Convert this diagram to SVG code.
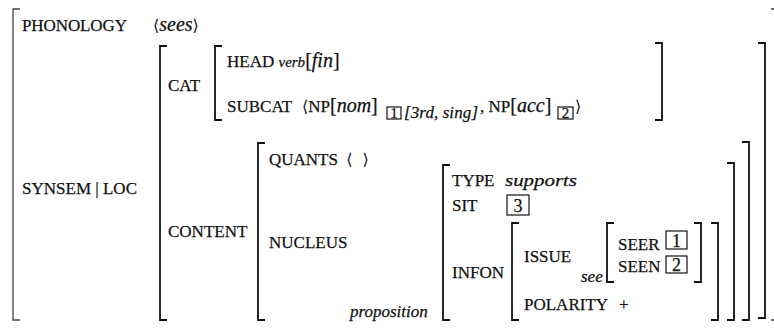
<svg xmlns="http://www.w3.org/2000/svg" width="774" height="330" viewBox="0 0 774 330">
<style>
text { font-family: "Liberation Serif", "Times New Roman", serif; font-size: 17px; fill: #111; stroke: #111; stroke-width: 0.25; }
.it { font-style: italic; }
.ang { font-family: "DejaVu Serif", serif; font-size: 16px; font-style: normal; stroke-width: 0; }
.br { fill: none; stroke: #111; stroke-width: 1.8; }
.outer { fill: none; stroke: #444; stroke-width: 1.3; }
.box { fill: none; stroke: #111; stroke-width: 1.2; }
.num { font-size: 18px; text-anchor: middle; }
.sub { font-size: 15px; text-anchor: middle; }
</style>
<rect width="774" height="330" fill="#fff"/>

<g id="brackets">
  <path class="outer" d="M20,9 H13 V320 H20"/>
  <path class="outer" d="M771,9 H776 V320 H771"/>
  <path class="br" d="M167,46 H160 V320 H167"/>
  <path class="br" d="M758,43 H765 V318 H758"/>
  <path class="br" d="M222,46 H215 V120 H222"/>
  <path class="br" d="M655,43 H662 V120 H655"/>
  <path class="br" d="M265,143 H258 V320 H265"/>
  <path class="br" d="M742,142 H749 V320 H742"/>
  <path class="br" d="M450,165 H443 V320 H450"/>
  <path class="br" d="M727,163 H734 V320 H727"/>
  <path class="br" d="M519,223 H512 V320 H519"/>
  <path class="br" d="M711,223 H718 V320 H711"/>
  <path class="br" d="M614,223 H607 V282 H614"/>
  <path class="br" d="M694,223 H701 V282 H694"/>
</g>

<g id="phonology">
  <text x="22" y="31" textLength="105">PHONOLOGY</text>
  <text x="153" y="31"><tspan class="ang">⟨</tspan><tspan class="it" font-size="20">sees</tspan><tspan class="ang">⟩</tspan></text>
</g>

<g id="synsem">
  <text x="22" y="194" textLength="115">SYNSEM | LOC</text>
  <text x="168" y="91">CAT</text>
  <text x="168" y="237">CONTENT</text>
</g>

<g id="cat">
  <text x="227" y="67">HEAD <tspan class="it" font-size="15">verb</tspan><tspan font-size="20">[</tspan><tspan class="it" font-size="20">fin</tspan><tspan font-size="20">]</tspan></text>
  <text x="227" y="112">SUBCAT</text>
  <text x="302" y="112"><tspan class="ang">⟨</tspan>NP<tspan font-size="20">[</tspan><tspan class="it" font-size="20">nom</tspan><tspan font-size="20">]</tspan></text>
  <rect class="box" x="387" y="107" width="14" height="12"/>
  <text class="sub" x="394" y="118" font-size="13">1</text>
  <text class="it" x="404" y="118" font-size="14" textLength="74">[3rd, sing]</text>
  <text x="480" y="112">, NP<tspan font-size="20">[</tspan><tspan class="it" font-size="20">acc</tspan><tspan font-size="20">]</tspan></text>
  <rect class="box" x="558" y="107" width="15" height="12"/>
  <text class="sub" x="565.5" y="118" font-size="13">2</text>
  <text x="575" y="112"><tspan class="ang">⟩</tspan></text>
</g>

<g id="content">
  <text x="269" y="165">QUANTS <tspan class="ang" dx="4">⟨</tspan><tspan class="ang" dx="10">⟩</tspan></text>
  <text x="269" y="248">NUCLEUS</text>
  <text class="it" x="350" y="317">proposition</text>
</g>

<g id="nucleus">
  <text x="452" y="186">TYPE</text>
  <text class="it" x="505" y="186" font-size="21" textLength="72" lengthAdjust="spacingAndGlyphs">supports</text>
  <text x="452" y="211">SIT</text>
  <rect class="box" x="507" y="195" width="22" height="20"/>
  <text class="num" x="518" y="212">3</text>
  <text x="452" y="278">INFON</text>
</g>

<g id="infon">
  <text x="524" y="262">ISSUE</text>
  <text class="it" x="581" y="282" font-size="14">see</text>
  <text x="524" y="310">POLARITY</text>
  <text x="619" y="310">+</text>
</g>

<g id="issue">
  <text x="618" y="250">SEER</text>
  <rect class="box" x="666" y="231" width="21" height="18"/>
  <text class="num" x="676.5" y="247">1</text>
  <text x="618" y="272">SEEN</text>
  <rect class="box" x="666" y="256" width="21" height="17"/>
  <text class="num" x="676.5" y="271">2</text>
</g>
</svg>
